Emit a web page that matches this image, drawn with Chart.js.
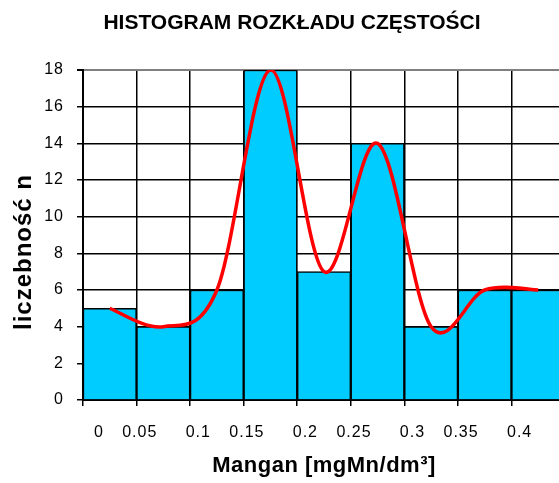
<!DOCTYPE html>
<html><head><meta charset="utf-8">
<script src="https://cdn.jsdelivr.net/npm/chart.js@4/dist/chart.umd.min.js"></script>
<style>html,body{margin:0;padding:0;overflow:hidden;background:#fff}#wrap{width:559px;height:483px;overflow:hidden}canvas{display:block}</style>
</head><body><div id="wrap"><canvas id="c" width="565" height="483"></canvas></div>
<script>
// ---- data ----
const categories = ['0', '0.05', '0.1', '0.15', '0.2', '0.25', '0.3', '0.35', '0.4'];
const counts = [5, 4, 6, 18, 7, 14, 4, 6, 6];
const trend = [5, 4, 6, 18, 7, 14, 4, 6, 6];
const yMin = 0, yMax = 18, yStep = 2;
const chartTitle = 'HISTOGRAM ROZKŁADU CZĘSTOŚCI';
const xTitle = 'Mangan [mgMn/dm³]';
const yTitle = 'liczebność n';

const FONT = '"Liberation Sans", Arial, Helvetica, sans-serif';
Chart.defaults.font.family = FONT;
Chart.defaults.color = '#000';

// Excel-like smoothed line (Catmull-Rom through the library's own point positions)
const smoothPlugin = {
  id: 'excelSmooth',
  beforeDatasetDraw(chart, args) {
    const meta = args.meta;
    if (meta.type !== 'line') return;
    const pts = meta.data, n = pts.length;
    for (let i = 0; i < n; i++) {
      const prev = pts[Math.max(i - 1, 0)], next = pts[Math.min(i + 1, n - 1)];
      const tx = (next.x - prev.x) / 2, ty = (next.y - prev.y) / 2;
      pts[i].cp1x = pts[i].x - tx / 3; pts[i].cp1y = pts[i].y - ty / 3;
      pts[i].cp2x = pts[i].x + tx / 3; pts[i].cp2y = pts[i].y + ty / 3;
    }
    meta.dataset._pointsUpdated = true;
  }
};

function drawText(ctx, text, x, y, size, spacing, rot) {
  ctx.save();
  ctx.letterSpacing = spacing + 'px';
  ctx.translate(x, y);
  if (rot) ctx.rotate(rot);
  ctx.font = 'bold ' + size + 'px ' + FONT;
  ctx.fillStyle = '#000';
  ctx.textAlign = 'center';
  ctx.textBaseline = 'middle';
  ctx.fillText(text, 0, 0);
  ctx.restore();
}

const textPlugin = {
  id: 'texts',
  beforeDraw(chart) { chart.ctx.letterSpacing = '1px'; },
  afterDraw(chart) {
    const ctx = chart.ctx;
    ctx.letterSpacing = '0px';
    const a = chart.chartArea;
    drawText(ctx, chartTitle, 292, 23, 21, 0, 0);
    drawText(ctx, xTitle, (a.left + a.right) / 2, 466, 22, 0.5, 0);
    drawText(ctx, yTitle, 24, 252, 24, 1, -Math.PI / 2);
  }
};

new Chart(document.getElementById('c'), {
  type: 'bar',
  data: {
    labels: categories,
    datasets: [
      {
        type: 'line',
        data: trend,
        borderColor: '#ff0000',
        borderWidth: 3.5,
        pointRadius: 0,
        tension: 0.4,
        fill: false,
        order: 1
      },
      {
        type: 'bar',
        data: counts,
        backgroundColor: '#00ccff',
        borderColor: '#000000',
        borderWidth: 1.5,
        barPercentage: 1,
        categoryPercentage: 1,
        order: 2
      }
    ]
  },
  options: {
    responsive: false,
    animation: false,
    events: [],
    layout: { padding: { top: 70, left: 0, right: 0, bottom: 0 } },
    plugins: {
      legend: { display: false },
      tooltip: { enabled: false },
      title: { display: false }
    },
    scales: {
      x: {
        afterFit(s) { s.height = 83; },
        grid: { offset: true, color: '#000', lineWidth: 1.5, tickLength: 6, tickColor: '#000' },
        border: { display: true, color: '#000', width: 2 },
        ticks: { font: { size: 16 }, color: '#000', align: 'end', labelOffset: -6, padding: 17, maxRotation: 0, autoSkip: false }
      },
      y: {
        min: yMin, max: yMax,
        afterFit(s) { s.width = 83; },
        grid: {
          color: c => (c.tick && c.tick.value === yMax) ? '#808080' : '#000',
          lineWidth: c => (c.tick && c.tick.value === yMax) ? 2 : 1.5,
          tickLength: 6, tickColor: '#000'
        },
        border: { display: true, color: '#000', width: 2 },
        ticks: { stepSize: yStep, font: { size: 16 }, color: '#000', padding: 13 }
      }
    }
  },
  plugins: [smoothPlugin, textPlugin]
});
</script>
</body></html>
